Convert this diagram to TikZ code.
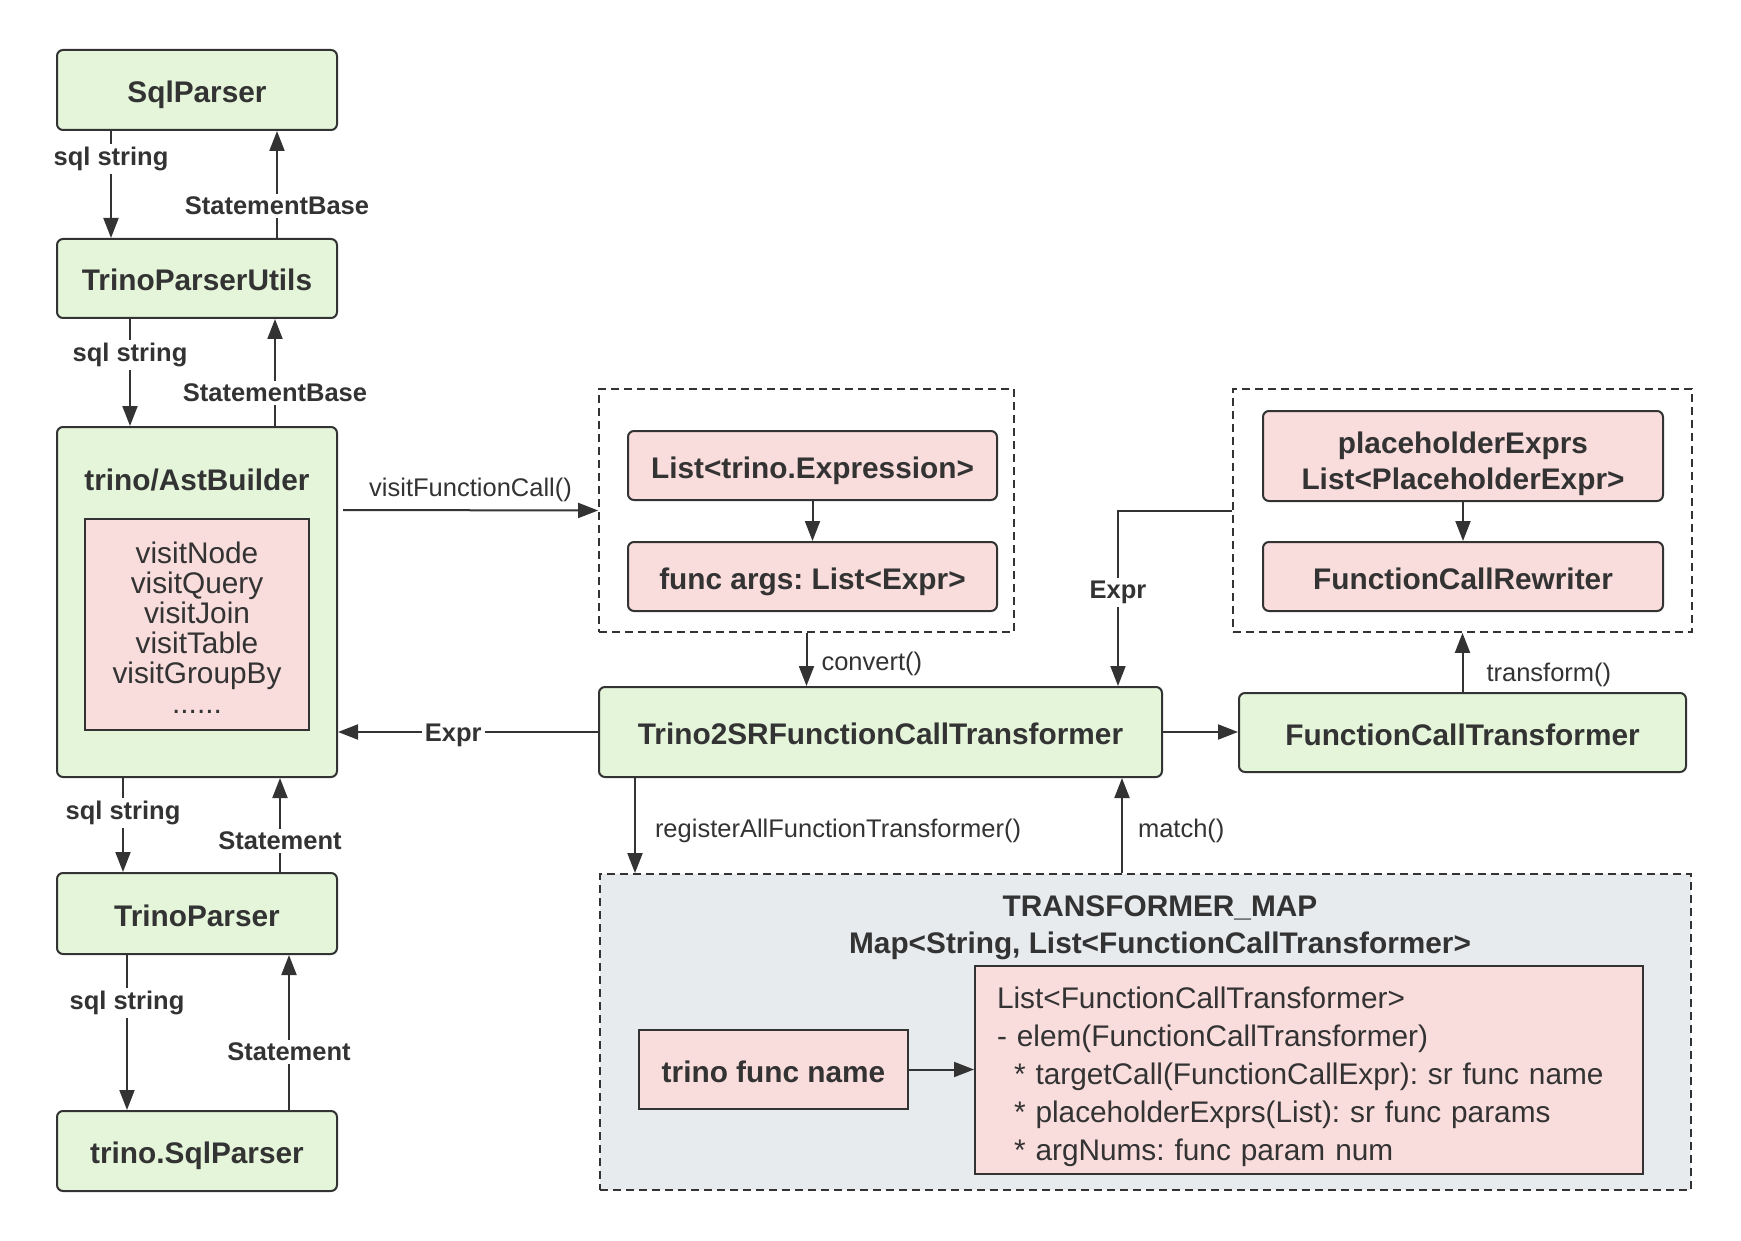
\documentclass[tikz,border=0pt]{standalone}
\usepackage{fontspec}
\setmainfont{Liberation Sans}
\usetikzlibrary{arrows.meta}
\frenchspacing
\definecolor{ink}{HTML}{333333}
\definecolor{leaf}{HTML}{E4F5DA}
\definecolor{rose}{HTML}{F9DCDC}
\definecolor{mist}{HTML}{E8EBEE}
\newcommand{\tsize}{\fontsize{29.8}{36}\selectfont}
\newcommand{\lsize}{\fontsize{25.5}{30}\selectfont}
\tikzset{>={Triangle[length=20pt,width=15pt]},every node/.style={text=ink},
cls/.style={draw=ink,line width=2pt,rounded corners=6pt,fill=leaf,font=\bfseries\tsize,inner sep=0pt,text height=25pt,text depth=0pt},
item/.style={cls,fill=rose},plain/.style={draw=ink,line width=2pt,fill=rose,inner sep=0pt,text height=25pt,text depth=0pt},
grp/.style={draw=ink,line width=1.8pt,dash pattern=on 8pt off 5pt,inner sep=0pt},
flow/.style={draw=ink,line width=2pt,->},lbl/.style={fill=white,font=\bfseries\lsize,inner sep=3pt},
call/.style={font=\lsize,inner sep=5pt}}

\begin{document}
\begin{tikzpicture}[x=1pt,y=-1pt]
\useasboundingbox (0,0) rectangle (1741,1241);
\node[cls,minimum width=280pt,minimum height=80pt] (sqlp) at (197,90) {SqlParser};
\node[cls,minimum width=280pt,minimum height=79pt] (tpu) at (197,278.5) {TrinoParserUtils};
\node[cls,minimum width=280pt,minimum height=350pt] (ast) at (197,602) {};
\node[font=\bfseries\tsize] (astT) at (197,480) {trino/AstBuilder};
\node[plain,minimum width=224pt,minimum height=211pt,align=center,font=\fontsize{29.8}{30}\selectfont,text height=178pt] (visits) at (197,624.5)
  {visitNode\\visitQuery\\visitJoin\\visitTable\\visitGroupBy\\......};
\node[cls,minimum width=280pt,minimum height=81pt] (tp) at (197,913.5) {TrinoParser};
\node[cls,minimum width=280pt,minimum height=80pt] (tsp) at (197,1151) {trino.SqlParser};

\node[grp,minimum width=415pt,minimum height=243pt] (argsGrp) at (806.5,510.5) {};
\node[item,minimum width=369pt,minimum height=69pt] (lte) at (812.5,465.5) {List<trino.Expression>};
\node[item,minimum width=369pt,minimum height=69pt] (fargs) at (812.5,576.5) {func args: List<Expr>};
\node[cls,minimum width=563pt,minimum height=90pt] (t2sr) at (880.5,732) {Trino2SRFunctionCallTransformer};
\node[cls,minimum width=447pt,minimum height=79pt] (fct) at (1462.5,732.5) {FunctionCallTransformer};
\node[grp,minimum width=459pt,minimum height=243pt] (rewGrp) at (1462.5,510.5) {};
\node[item,minimum width=400pt,minimum height=90pt,align=center,text height=66pt] (phe) at (1463,456) {placeholderExprs\\List<PlaceholderExpr>};
\node[item,minimum width=400pt,minimum height=69pt] (fcr) at (1463,576.5) {FunctionCallRewriter};

\node[grp,fill=mist,minimum width=1091pt,minimum height=316pt] (map) at (1145.5,1032) {};
\node[font=\bfseries\fontsize{29.8}{37}\selectfont,align=center] (mapT) at (1160,928)
  {TRANSFORMER\_MAP\\Map<String, List<FunctionCallTransformer>};
\node[plain,minimum width=269pt,minimum height=79pt,font=\bfseries\tsize] (tfn) at (773.5,1069.5) {trino func name};
\node[plain,text width=624pt,inner xsep=22pt,minimum height=208pt,align=left,font=\fontsize{29.8}{38}\selectfont,text height=35pt,text depth=158pt] (lst) at (1309,1070)
  {List<FunctionCallTransformer>\\- elem(FunctionCallTransformer)\\\hspace*{17pt}* targetCall(FunctionCallExpr): sr func name\\
   \hspace*{17pt}* placeholderExprs(List): sr func params\\\hspace*{17pt}* argNums: func param num};

\draw[flow] ([xshift=-86pt]sqlp.south) -- node[lbl,pos=.26]{sql string} ([xshift=-86pt]tpu.north);
\draw[flow] ([xshift=80pt]tpu.north) -- node[lbl,pos=.3]{StatementBase} ([xshift=80pt]sqlp.south);
\draw[flow] ([xshift=-67pt]tpu.south) -- node[lbl,pos=.34]{sql string} ([xshift=-67pt]ast.north);
\draw[flow] ([xshift=78pt]ast.north) -- node[lbl,pos=.31]{StatementBase} ([xshift=78pt]tpu.south);
\draw[flow] ([xshift=-74pt]ast.south) -- node[lbl,pos=.375]{sql string} ([xshift=-74pt]tp.north);
\draw[flow] ([xshift=83pt]tp.north) -- node[lbl,pos=.33]{Statement} ([xshift=83pt]ast.south);
\draw[flow] ([xshift=-70pt]tp.south) -- node[lbl,pos=.31]{sql string} ([xshift=-70pt]tsp.north);
\draw[flow] ([xshift=92pt]tsp.north) -- node[lbl,pos=.375]{Statement} ([xshift=92pt]tp.south);

\draw[flow] ([yshift=92pt,xshift=5pt]ast.east) -- node[call,midway,above,yshift=2pt]{visitFunctionCall()} (argsGrp.west);
\draw[flow] (lte) -- (fargs);
\draw[flow] (argsGrp.south) -- node[call,midway,right,xshift=9pt,yshift=-4pt]{convert()} (argsGrp.south |- t2sr.north);
\draw[flow] (t2sr.west) -- node[lbl,pos=.557,yshift=-3pt]{Expr} (t2sr.west -| ast.east);
\draw[flow] (t2sr.east) -- (t2sr.east -| fct.west);
\draw[flow] (fct.north) -- node[call,pos=.35,right,xshift=18pt,yshift=-4pt]{transform()} (rewGrp.south);
\draw[flow] (rewGrp.west) -| node[lbl,pos=.726,yshift=-3pt]{Expr} ([xshift=237.5pt]t2sr.north);
\draw[flow] (phe) -- (fcr);
\draw[flow] ([xshift=-245.5pt]t2sr.south) -- node[call,midway,right,xshift=14pt,yshift=-5pt]{registerAllFunctionTransformer()} ([xshift=-245.5pt]t2sr.south |- map.north);
\draw[flow] ([xshift=241.5pt]t2sr.south |- map.north) -- node[call,midway,right,xshift=10pt,yshift=-5pt]{match()} ([xshift=241.5pt]t2sr.south);
\draw[flow] (tfn.east) -- (tfn.east -| lst.west);
\end{tikzpicture}
\end{document}
